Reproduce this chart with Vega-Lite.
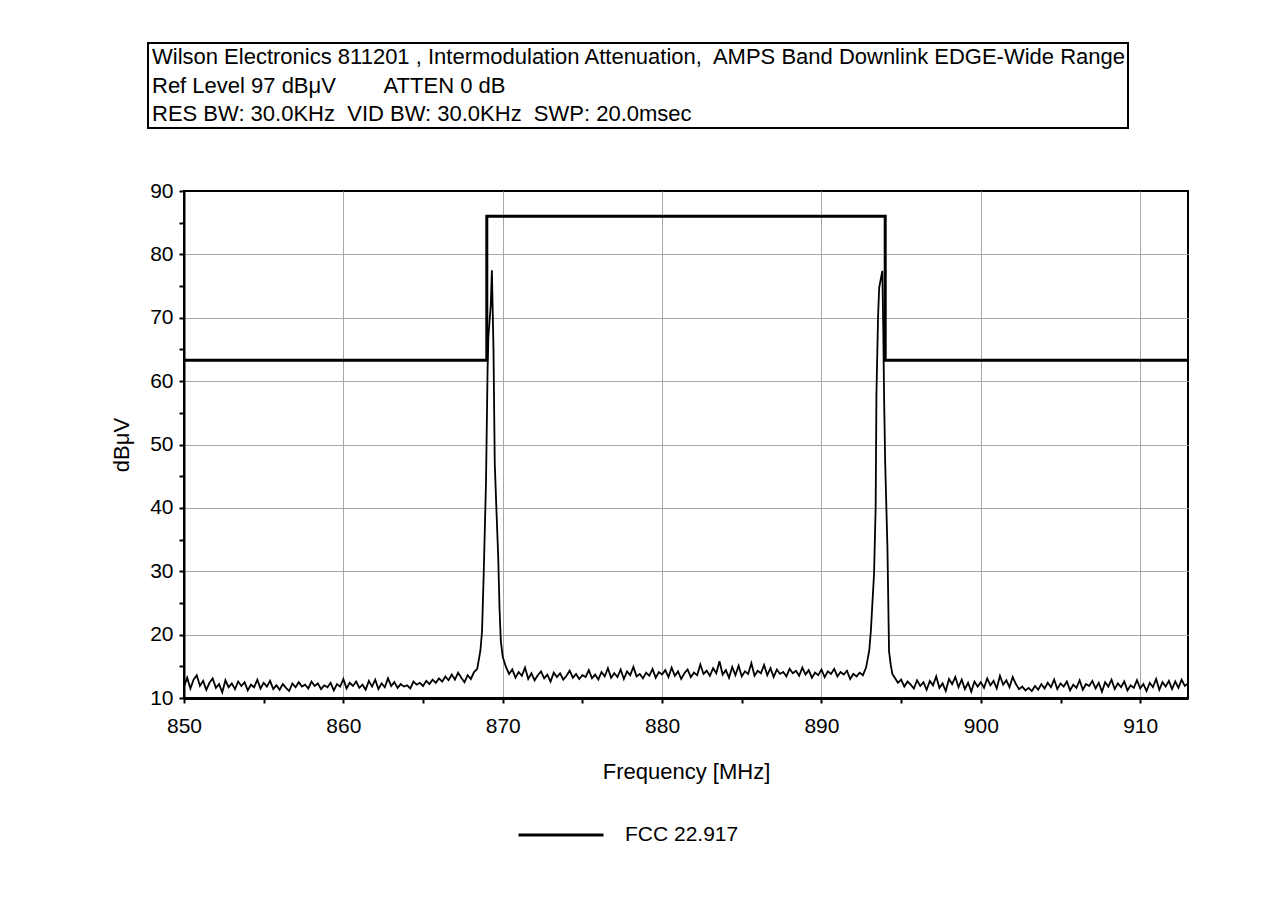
{
"$schema": "https://vega.github.io/schema/vega-lite/v6.json",
"background": "white",
"padding": {"top": 42, "left": 109, "right": 5, "bottom": 5},
"spacing": 50,
"config": {
  "font": "Liberation Sans",
  "view": {"stroke": "black", "strokeWidth": 2},
  "axis": {"labelFont": "Liberation Sans", "titleFont": "Liberation Sans", "labelColor": "black", "titleColor": "black", "titleFontWeight": "normal", "labelFontSize": 21, "titleFontSize": 22}
},
"datasets": {
  "header": [
    {"line": 1, "text": "Wilson Electronics 811201 , Intermodulation Attenuation,\u00a0 AMPS Band Downlink EDGE-Wide Range"},
    {"line": 2, "text": "Ref Level 97 dBμV\u00a0\u00a0\u00a0\u00a0\u00a0\u00a0\u00a0 ATTEN 0 dB"},
    {"line": 3, "text": "RES BW: 30.0KHz\u00a0 VID BW: 30.0KHz\u00a0 SWP: 20.0msec"}
  ],
  "limit": [
    {"i": 1, "f": 850, "v": 63.3, "series": "FCC 22.917"},
    {"i": 2, "f": 869, "v": 63.3, "series": "FCC 22.917"},
    {"i": 3, "f": 869, "v": 86, "series": "FCC 22.917"},
    {"i": 4, "f": 894, "v": 86, "series": "FCC 22.917"},
    {"i": 5, "f": 894, "v": 63.3, "series": "FCC 22.917"},
    {"i": 6, "f": 913, "v": 63.3, "series": "FCC 22.917"}
  ],
  "trace": [
    {"f":850.0,"v":11.8},{"f":850.2,"v":13.2},{"f":850.4,"v":11.5},{"f":850.6,"v":12.9},{"f":850.8,"v":13.6},{"f":851.0,"v":11.9},{"f":851.2,"v":12.7},{"f":851.4,"v":11.3},{"f":851.6,"v":12.4},{"f":851.8,"v":13.1},
    {"f":852.0,"v":11.6},{"f":852.2,"v":12.2},{"f":852.4,"v":10.9},{"f":852.6,"v":12.8},{"f":852.8,"v":11.7},{"f":853.0,"v":12.3},{"f":853.2,"v":11.4},{"f":853.4,"v":12.6},{"f":853.6,"v":11.9},{"f":853.8,"v":12.5},
    {"f":854.0,"v":11.2},{"f":854.2,"v":12.1},{"f":854.4,"v":11.7},{"f":854.6,"v":12.9},{"f":854.8,"v":11.5},{"f":855.0,"v":12.4},{"f":855.2,"v":11.8},{"f":855.4,"v":12.7},{"f":855.6,"v":11.4},{"f":855.8,"v":12.0},
    {"f":856.0,"v":11.3},{"f":856.2,"v":12.2},{"f":856.4,"v":11.6},{"f":856.6,"v":11.1},{"f":856.8,"v":12.3},{"f":857.0,"v":11.7},{"f":857.2,"v":12.5},{"f":857.4,"v":11.8},{"f":857.6,"v":12.1},{"f":857.8,"v":11.5},
    {"f":858.0,"v":12.6},{"f":858.2,"v":11.9},{"f":858.4,"v":12.3},{"f":858.6,"v":11.4},{"f":858.8,"v":12.0},{"f":859.0,"v":11.7},{"f":859.2,"v":12.4},{"f":859.4,"v":11.2},{"f":859.6,"v":12.2},{"f":859.8,"v":11.8},
    {"f":860.0,"v":13.0},{"f":860.2,"v":11.5},{"f":860.4,"v":12.4},{"f":860.6,"v":11.9},{"f":860.8,"v":12.6},{"f":861.0,"v":11.6},{"f":861.2,"v":12.1},{"f":861.4,"v":11.3},{"f":861.6,"v":12.7},{"f":861.8,"v":11.8},
    {"f":862.0,"v":12.9},{"f":862.2,"v":11.4},{"f":862.4,"v":12.3},{"f":862.6,"v":11.7},{"f":862.8,"v":13.1},{"f":863.0,"v":11.9},{"f":863.2,"v":12.5},{"f":863.4,"v":11.6},{"f":863.6,"v":12.2},{"f":863.8,"v":11.8},
    {"f":864.0,"v":12.0},{"f":864.2,"v":11.5},{"f":864.4,"v":12.6},{"f":864.6,"v":12.1},{"f":864.8,"v":12.4},{"f":865.0,"v":11.9},{"f":865.2,"v":12.7},{"f":865.4,"v":12.2},{"f":865.6,"v":12.9},{"f":865.8,"v":12.4},
    {"f":866.0,"v":13.1},{"f":866.2,"v":12.6},{"f":866.4,"v":13.4},{"f":866.6,"v":12.8},{"f":866.8,"v":13.7},{"f":867.0,"v":12.9},{"f":867.2,"v":14.0},{"f":867.4,"v":13.2},{"f":867.6,"v":12.5},{"f":867.8,"v":13.6},
    {"f":868.0,"v":13.0},{"f":868.2,"v":14.1},
    {"f":868.4,"v":14.6},{"f":868.6,"v":17.5},{"f":868.7,"v":20.5},{"f":868.8,"v":29},{"f":868.95,"v":44},{"f":869.05,"v":62},{"f":869.1,"v":67},{"f":869.25,"v":72},{"f":869.32,"v":77.5},{"f":869.38,"v":70},{"f":869.42,"v":65},{"f":869.5,"v":47},{"f":869.6,"v":40},{"f":869.72,"v":32},{"f":869.8,"v":24},{"f":869.88,"v":19},{"f":870.0,"v":16.5},
    {"f":870.2,"v":14.9},{"f":870.4,"v":13.8},{"f":870.6,"v":14.5},{"f":870.8,"v":13.2},{"f":871.0,"v":14.1},{"f":871.2,"v":13.5},{"f":871.4,"v":14.8},{"f":871.6,"v":13.0},{"f":871.8,"v":13.9},
    {"f":872.0,"v":12.8},{"f":872.2,"v":13.6},{"f":872.4,"v":14.2},{"f":872.6,"v":13.1},{"f":872.8,"v":13.7},{"f":873.0,"v":12.6},{"f":873.2,"v":14.0},{"f":873.4,"v":13.3},{"f":873.6,"v":13.9},{"f":873.8,"v":12.9},
    {"f":874.0,"v":13.5},{"f":874.2,"v":14.3},{"f":874.4,"v":13.2},{"f":874.6,"v":13.8},{"f":874.8,"v":13.0},{"f":875.0,"v":13.6},{"f":875.2,"v":13.3},{"f":875.4,"v":14.4},{"f":875.6,"v":13.1},{"f":875.8,"v":13.7},
    {"f":876.0,"v":12.9},{"f":876.2,"v":14.1},{"f":876.4,"v":13.4},{"f":876.6,"v":14.7},{"f":876.8,"v":13.2},{"f":877.0,"v":13.9},{"f":877.2,"v":13.3},{"f":877.4,"v":14.5},{"f":877.6,"v":13.0},{"f":877.8,"v":14.2},
    {"f":878.0,"v":13.6},{"f":878.2,"v":14.9},{"f":878.4,"v":13.4},{"f":878.6,"v":13.8},{"f":878.8,"v":13.1},{"f":879.0,"v":14.0},{"f":879.2,"v":13.5},{"f":879.4,"v":14.6},{"f":879.6,"v":13.2},{"f":879.8,"v":14.1},
    {"f":880.0,"v":13.7},{"f":880.2,"v":14.4},{"f":880.4,"v":13.3},{"f":880.6,"v":14.8},{"f":880.8,"v":13.5},{"f":881.0,"v":14.2},{"f":881.2,"v":13.0},{"f":881.4,"v":13.9},{"f":881.6,"v":14.5},{"f":881.8,"v":13.3},
    {"f":882.0,"v":14.0},{"f":882.2,"v":13.6},{"f":882.4,"v":15.3},{"f":882.6,"v":13.8},{"f":882.8,"v":14.3},{"f":883.0,"v":13.5},{"f":883.2,"v":14.7},{"f":883.4,"v":13.9},{"f":883.6,"v":15.8},{"f":883.8,"v":13.7},
    {"f":884.0,"v":14.4},{"f":884.2,"v":13.2},{"f":884.4,"v":14.9},{"f":884.6,"v":13.6},{"f":884.8,"v":15.1},{"f":885.0,"v":13.4},{"f":885.2,"v":14.2},{"f":885.4,"v":13.8},{"f":885.6,"v":15.5},{"f":885.8,"v":13.5},
    {"f":886.0,"v":14.3},{"f":886.2,"v":13.9},{"f":886.4,"v":15.2},{"f":886.6,"v":13.6},{"f":886.8,"v":14.7},{"f":887.0,"v":13.3},{"f":887.2,"v":14.5},{"f":887.4,"v":13.8},{"f":887.6,"v":14.1},{"f":887.8,"v":13.4},
    {"f":888.0,"v":14.6},{"f":888.2,"v":13.9},{"f":888.4,"v":14.3},{"f":888.6,"v":13.5},{"f":888.8,"v":14.8},{"f":889.0,"v":13.7},{"f":889.2,"v":14.4},{"f":889.4,"v":13.2},{"f":889.6,"v":14.0},{"f":889.8,"v":13.6},
    {"f":890.0,"v":14.5},{"f":890.2,"v":13.3},{"f":890.4,"v":14.2},{"f":890.6,"v":13.8},{"f":890.8,"v":14.6},{"f":891.0,"v":13.4},{"f":891.2,"v":14.1},{"f":891.4,"v":13.7},{"f":891.6,"v":14.3},{"f":891.8,"v":13.0},
    {"f":892.0,"v":13.8},{"f":892.2,"v":13.4},{"f":892.4,"v":14.0},{"f":892.6,"v":13.6},
    {"f":892.8,"v":14.8},{"f":893.0,"v":17.5},{"f":893.1,"v":20.6},{"f":893.3,"v":29.6},{"f":893.4,"v":40},{"f":893.45,"v":58},{"f":893.55,"v":70},{"f":893.62,"v":74.7},{"f":893.75,"v":76.5},{"f":893.82,"v":77.4},{"f":893.88,"v":68},{"f":893.93,"v":57.4},{"f":894.0,"v":47},{"f":894.14,"v":33.7},{"f":894.24,"v":17.4},{"f":894.35,"v":15.2},{"f":894.45,"v":13.8},
    {"f":894.6,"v":13.2},{"f":894.8,"v":12.4},{"f":895.0,"v":12.9},{"f":895.2,"v":11.8},{"f":895.4,"v":12.6},{"f":895.6,"v":12.1},{"f":895.8,"v":11.5},
    {"f":896.0,"v":12.8},{"f":896.2,"v":11.9},{"f":896.4,"v":12.5},{"f":896.6,"v":11.3},{"f":896.8,"v":12.7},{"f":897.0,"v":12.0},{"f":897.2,"v":13.4},{"f":897.4,"v":11.6},{"f":897.6,"v":12.3},{"f":897.8,"v":11.1},
    {"f":898.0,"v":13.0},{"f":898.2,"v":12.2},{"f":898.4,"v":13.3},{"f":898.6,"v":11.7},{"f":898.8,"v":12.9},{"f":899.0,"v":11.4},{"f":899.2,"v":12.4},{"f":899.4,"v":11.0},{"f":899.6,"v":12.6},{"f":899.8,"v":11.8},
    {"f":900.0,"v":12.5},{"f":900.2,"v":11.6},{"f":900.4,"v":13.1},{"f":900.6,"v":12.0},{"f":900.8,"v":12.7},{"f":901.0,"v":11.5},{"f":901.2,"v":13.5},{"f":901.4,"v":12.1},{"f":901.6,"v":12.8},{"f":901.8,"v":11.7},
    {"f":902.0,"v":13.3},{"f":902.2,"v":12.2},{"f":902.4,"v":11.4},{"f":902.6,"v":11.8},{"f":902.8,"v":11.2},{"f":903.0,"v":11.6},{"f":903.2,"v":11.1},{"f":903.4,"v":11.9},{"f":903.6,"v":11.3},{"f":903.8,"v":12.2},
    {"f":904.0,"v":11.5},{"f":904.2,"v":12.4},{"f":904.4,"v":11.7},{"f":904.6,"v":12.9},{"f":904.8,"v":11.4},{"f":905.0,"v":12.3},{"f":905.2,"v":11.8},{"f":905.4,"v":12.6},{"f":905.6,"v":11.2},{"f":905.8,"v":12.1},
    {"f":906.0,"v":11.6},{"f":906.2,"v":12.8},{"f":906.4,"v":11.3},{"f":906.6,"v":12.2},{"f":906.8,"v":11.9},{"f":907.0,"v":12.7},{"f":907.2,"v":11.5},{"f":907.4,"v":12.4},{"f":907.6,"v":11.0},{"f":907.8,"v":12.5},
    {"f":908.0,"v":11.8},{"f":908.2,"v":12.9},{"f":908.4,"v":11.4},{"f":908.6,"v":12.3},{"f":908.8,"v":11.7},{"f":909.0,"v":12.6},{"f":909.2,"v":11.2},{"f":909.4,"v":12.0},{"f":909.6,"v":11.6},{"f":909.8,"v":12.8},
    {"f":910.0,"v":11.5},{"f":910.2,"v":12.2},{"f":910.4,"v":11.1},{"f":910.6,"v":12.4},{"f":910.8,"v":11.7},{"f":911.0,"v":13.0},{"f":911.2,"v":11.3},{"f":911.4,"v":12.5},{"f":911.6,"v":11.8},{"f":911.8,"v":12.7},
    {"f":912.0,"v":11.4},{"f":912.2,"v":12.6},{"f":912.4,"v":11.6},{"f":912.6,"v":12.9},{"f":912.8,"v":11.9},{"f":913.0,"v":12.3}
  ]
},
"vconcat": [
  {
    "width": 944,
    "height": 85,
    "view": {"stroke": null},
    "layer": [
      {
        "data": {"values": [{"box": "header"}]},
        "mark": {"type": "rect", "fill": "white", "fillOpacity": 0, "stroke": "black", "strokeWidth": 2},
        "encoding": {
          "x": {"datum": 0, "type": "quantitative", "scale": {"domain": [0, 1], "range": [-36, 944]}, "axis": null},
          "x2": {"datum": 1}
        }
      },
      {
        "data": {"name": "header"},
        "mark": {"type": "text", "align": "left", "baseline": "middle", "fontSize": 22, "dx": 4, "color": "black", "font": "Liberation Sans"},
        "encoding": {
          "x": {"datum": 0, "type": "quantitative", "scale": {"domain": [0, 1], "range": [-36, 944]}, "axis": null},
          "y": {"field": "line", "type": "ordinal", "scale": {"type": "point", "padding": 0.47}, "axis": null},
          "text": {"field": "text"}
        }
      }
    ]
  },
  {
    "width": 1004,
    "height": 507,
    "encoding": {
      "x": {"field": "f", "type": "quantitative",
            "scale": {"domain": [850, 913], "nice": false, "zero": false},
            "axis": {"values": [850,855,860,865,870,875,880,885,890,895,900,905,910],
                     "labelExpr": "datum.value % 10 === 0 ? datum.label : ''",
                     "format": "d", "title": "Frequency [MHz]", "labelFlush": false,
                     "grid": true, "gridColor": "#a8a8a8", "gridWidth": 1,
                     "gridOpacity": {"condition": {"test": "datum.value % 10 === 0 && datum.value > 850", "value": 1}, "value": 0},
                     "domainColor": "black", "domainWidth": 3, "tickColor": "black", "tickWidth": 2, "tickSize": 5,
                     "labelPadding": 12, "titlePadding": 25, "labelOverlap": false}},
      "y": {"field": "v", "type": "quantitative",
            "scale": {"domain": [10, 90], "nice": false, "zero": false},
            "axis": {"values": [10,15,20,25,30,35,40,45,50,55,60,65,70,75,80,85,90],
                     "labelExpr": "datum.value % 10 === 0 ? datum.label : ''",
                     "format": "d", "title": "dBμV", "labelFlush": false,
                     "grid": true, "gridColor": "#a8a8a8", "gridWidth": 1,
                     "gridOpacity": {"condition": {"test": "datum.value % 10 === 0 && datum.value > 10 && datum.value < 90", "value": 1}, "value": 0},
                     "domainColor": "black", "domainWidth": 2, "tickColor": "black", "tickWidth": 2, "tickSize": 5,
                     "labelPadding": 6, "titlePadding": 16, "labelOverlap": false}}
    },
    "layer": [
      {
        "data": {"name": "trace"},
        "mark": {"type": "line", "color": "black", "strokeWidth": 1.8, "interpolate": "linear"}
      },
      {
        "data": {"name": "limit"},
        "mark": {"type": "line", "strokeWidth": 3},
        "encoding": {
          "order": {"field": "i", "type": "quantitative"},
          "color": {"field": "series", "type": "nominal", "scale": {"range": ["black"]},
                    "legend": {"orient": "none", "legendX": 333, "legendY": 748, "title": null, "direction": "horizontal",
                               "symbolType": "stroke", "symbolSize": 7225, "symbolStrokeWidth": 3,
                               "labelFontSize": 21, "labelFont": "Liberation Sans", "labelColor": "black", "labelOffset": 20}}
        }
      }
    ]
  }
]
}
